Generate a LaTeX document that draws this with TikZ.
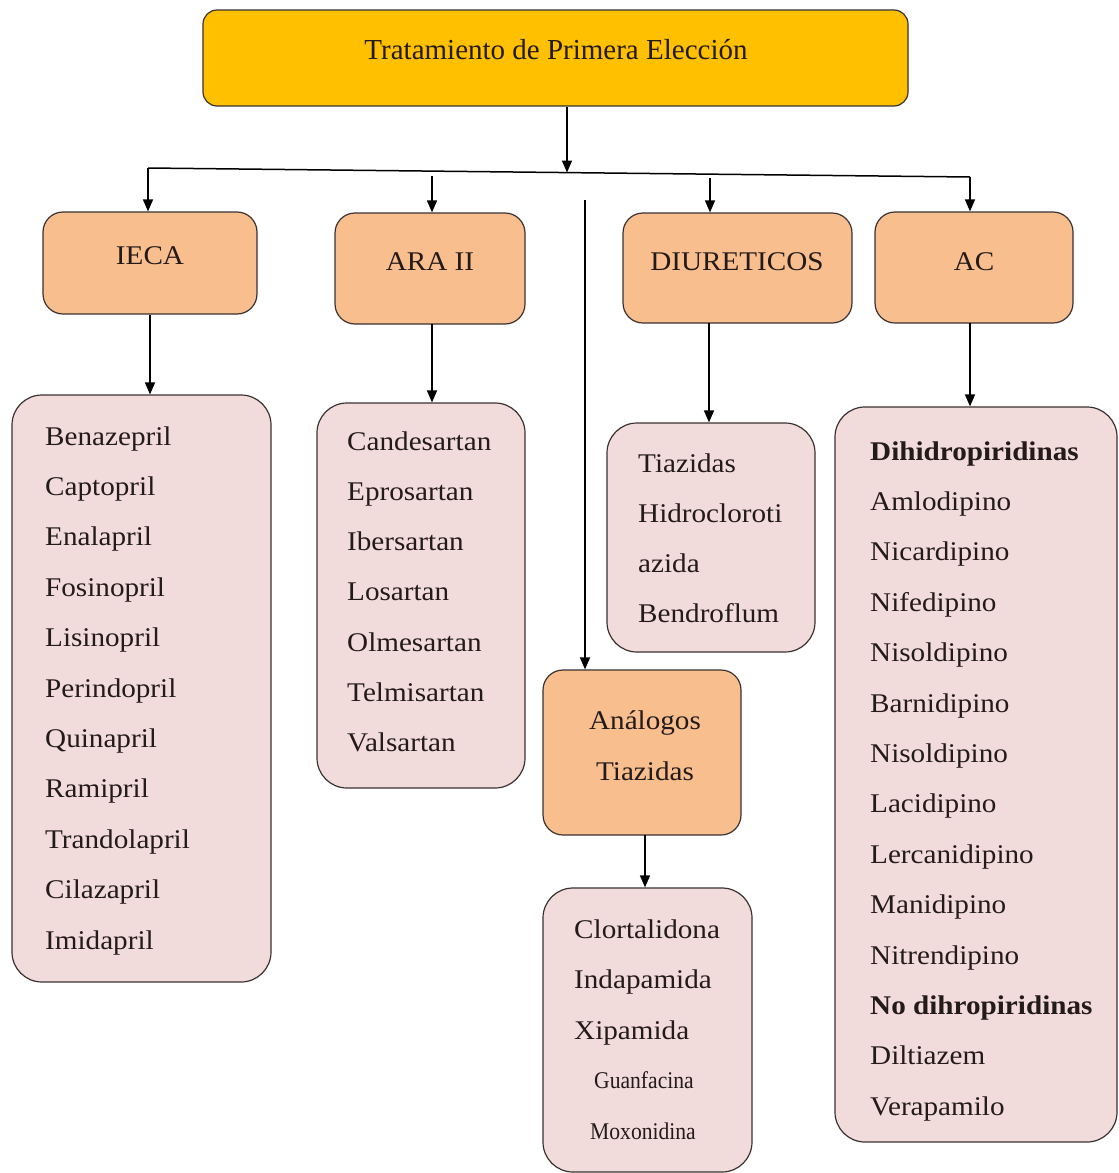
\documentclass[tikz,border=0pt]{standalone}
\usepackage{fontspec}
\setmainfont{Liberation Serif}
\newfontfamily\widefont[FakeStretch=1.08]{Liberation Serif}
\newfontfamily\narrowfont[FakeStretch=0.9]{Liberation Serif}
\usetikzlibrary{arrows.meta}
\definecolor{gold}{HTML}{FFC000}
\definecolor{peach}{HTML}{F8BE8E}
\definecolor{rosa}{HTML}{F2DCDB}
\definecolor{edge}{HTML}{3A3232}
\definecolor{ink}{HTML}{231A1A}
\begin{document}
\begin{tikzpicture}[x=1pt,y=-1pt,
  boxbase/.style={draw=edge,line width=1.2pt,inner sep=0pt},
  titlebox/.style={boxbase,fill=gold,rounded corners=14pt},
  catbox/.style={boxbase,fill=peach,rounded corners=20pt},
  listbox/.style={boxbase,fill=rosa,rounded corners=30pt},
  item/.style={anchor=base west,inner sep=0pt,text=ink,font=\widefont\fontsize{27}{32}\selectfont},
  smallitem/.style={anchor=base west,inner sep=0pt,text=ink,font=\narrowfont\fontsize{24}{28}\selectfont},
  cattext/.style={inner sep=0pt,text=ink,font=\widefont\fontsize{27}{32}\selectfont},
  arr/.style={line width=1.5pt,-{Triangle[length=12pt,width=10pt]}},
  ln/.style={line width=1.5pt}
]
\useasboundingbox (0,0) rectangle (1119,1173);
\fill[white] (0,0) rectangle (1119,1173);

% boxes (x1,y1)-(x2,y2) in pixels
\node[titlebox,minimum width=705pt,minimum height=96pt] (top) at (555.5,58) {};
\node[inner sep=0pt,text=ink,font=\fontsize{29}{34}\selectfont] (toptxt) at (556,50) {Tratamiento de Primera Elección};

\node[catbox,minimum width=214pt,minimum height=102pt] (ieca) at (150,263) {};
\node[catbox,minimum width=190pt,minimum height=111pt] (ara) at (430,268.5) {};
\node[catbox,minimum width=229pt,minimum height=110pt] (diu) at (737.5,268) {};
\node[catbox,minimum width=198pt,minimum height=111pt] (ac) at (974,267.5) {};
\node[catbox,minimum width=198pt,minimum height=165pt] (ana) at (642,752.5) {};

\node[cattext] (iecat) at (150,256) {IECA};
\node[cattext] (arat) at (430,262) {ARA II};
\node[cattext] (diut) at (737,262) {DIURETICOS};
\node[cattext] (act) at (974,262) {AC};
\node[cattext,align=center,font=\widefont\fontsize{27}{51}\selectfont] (anat) at (645,746) {Análogos\\Tiazidas};

\node[listbox,minimum width=259pt,minimum height=587pt] (iecal) at (141.5,688.5) {};
\node[listbox,minimum width=208pt,minimum height=385pt] (aral) at (421,595.5) {};
\node[listbox,minimum width=208pt,minimum height=229pt] (diul) at (711,537.5) {};
\node[listbox,minimum width=282pt,minimum height=735pt] (acl) at (976,774.5) {};
\node[listbox,minimum width=209pt,minimum height=284pt] (anal) at (647.5,1030) {};

% list texts
\foreach \t [count=\i] in {Benazepril,Captopril,Enalapril,Fosinopril,Lisinopril,Perindopril,Quinapril,Ramipril,Trandolapril,Cilazapril,Imidapril}
  \node[item] (ieca\i) at (45,{445+50.4*(\i-1)}) {\t};
\foreach \t [count=\i] in {Candesartan,Eprosartan,Ibersartan,Losartan,Olmesartan,Telmisartan,Valsartan}
  \node[item] (ara\i) at (347,{450+50.3*(\i-1)}) {\t};
\foreach \t [count=\i] in {Tiazidas,Hidrocloroti,azida,Bendroflum}
  \node[item] (diu\i) at (638,{472+50*(\i-1)}) {\t};
\foreach \t [count=\i] in {{\bfseries Dihidropiridinas},Amlodipino,Nicardipino,Nifedipino,Nisoldipino,Barnidipino,Nisoldipino,Lacidipino,Lercanidipino,Manidipino,Nitrendipino,{\bfseries No dihropiridinas},Diltiazem,Verapamilo}
  \node[item] (ac\i) at (870,{460+50.4*(\i-1)}) {\t};
\foreach \t [count=\i] in {Clortalidona,Indapamida,Xipamida}
  \node[item] (ana\i) at (574,{938+50.5*(\i-1)}) {\t};
\node[smallitem] (ana4) at (594,1088) {Guanfacina};
\node[smallitem] (ana5) at (590,1139) {Moxonidina};

% connectors
\coordinate (hl) at (148,168);
\coordinate (hr) at (970,177);
\coordinate (hmid) at (567,172.5);
\draw[ln] (hl) -- (hr);
\draw[arr] (top.south -| hmid) -- (hmid);
\draw[arr] (hl) -- (hl |- ieca.north);
\coordinate (a2) at (432,176);
\draw[arr] (a2) -- (a2 |- ara.north);
\coordinate (a3) at (710,178);
\draw[arr] (a3) -- (a3 |- diu.north);
\draw[arr] (hr) -- (hr |- ac.north);
\coordinate (vs) at (585,200);
\draw[arr] (vs) -- (vs |- ana.north);

\draw[arr] (ieca.south) -- (ieca.south |- iecal.north);
\coordinate (b2) at (432,324);
\draw[arr] (b2) -- (b2 |- aral.north);
\coordinate (b3) at (709,323);
\draw[arr] (b3) -- (b3 |- diul.north);
\coordinate (b4) at (970,323);
\draw[arr] (b4) -- (b4 |- acl.north);
\coordinate (b5) at (645,835);
\draw[arr] (b5) -- (b5 |- anal.north);
\end{tikzpicture}
\end{document}
